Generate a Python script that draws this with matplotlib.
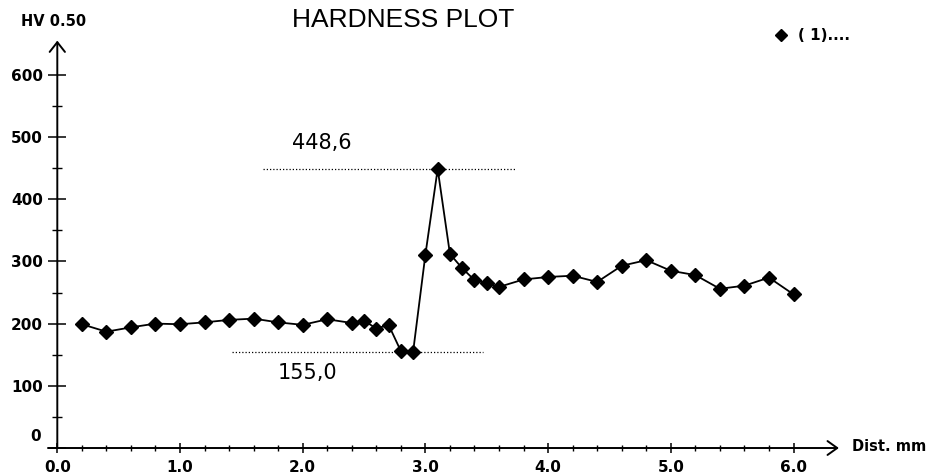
import matplotlib
matplotlib.use("Agg")
import numpy as np
import matplotlib.pyplot as plt
from matplotlib.ticker import FixedLocator

# ---- data ----
dist_mm = [0.2, 0.4, 0.6, 0.8, 1.0, 1.2, 1.4, 1.6, 1.8, 2.0, 2.2, 2.4,
           2.5, 2.6, 2.7, 2.8, 2.9, 3.0, 3.1, 3.2, 3.3, 3.4, 3.5, 3.6,
           3.8, 4.0, 4.2, 4.4, 4.6, 4.8, 5.0, 5.2, 5.4, 5.6, 5.8, 6.0]
hardness = [199, 187, 194, 200, 199, 202, 206, 208, 202, 198, 207, 201,
            205, 192, 198, 155.8, 155.0, 311, 448.6, 312, 289, 270, 265, 259,
            271, 275, 277, 267, 293, 302, 285, 278, 256, 261, 274, 247]
x_ticks = [0.0, 1.0, 2.0, 3.0, 4.0, 5.0, 6.0]
x_tick_labels = ["0.0", "1.0", "2.0", "3.0", "4.0", "5.0", "6.0"]
y_ticks = [0, 100, 200, 300, 400, 500, 600]
y_tick_labels = ["", "100", "200", "300", "400", "500", "600"]
title = "HARDNESS PLOT"
y_label = "HV 0.50"
x_label = "Dist. mm"
legend_label = "( 1)...."

BOLD = dict(family="DejaVu Sans", weight="bold")

fig = plt.figure(figsize=(9.34, 4.75), dpi=100)
ax = fig.add_axes([0, 0, 1, 1])
ax.set_xlim(-0.467, 7.145)
ax.set_ylim(-43.4, 720.3)
for s in ax.spines.values():
    s.set_visible(False)
ax.spines["left"].set_position(("data", 0))
ax.spines["bottom"].set_position(("data", 0))
ax.patch.set_alpha(0)

# ticks (minor ticks only inside the drawn axis range)
x_minor = [v for v in np.round(np.arange(0.2, 6.0, 0.2), 1) if v not in x_ticks]
y_minor = list(np.arange(50, 600, 100))
ax.xaxis.set_major_locator(FixedLocator(x_ticks))
ax.set_xticklabels(x_tick_labels, fontsize=11, **BOLD)
ax.xaxis.set_minor_locator(FixedLocator(x_minor))
ax.yaxis.set_major_locator(FixedLocator(y_ticks))
ax.set_yticklabels(y_tick_labels, fontsize=11, **BOLD)
ax.yaxis.set_minor_locator(FixedLocator(y_minor))
ax.tick_params(axis="x", which="major", direction="inout", length=7.7, width=1.1, pad=4.5)
ax.tick_params(axis="x", which="minor", direction="inout", length=3.8, width=1.0)
ax.tick_params(axis="y", which="major", direction="inout", length=13, width=1.1, pad=4)
ax.tick_params(axis="y", which="minor", direction="inout", length=7.2, width=1.0)
ax.text(-0.13, 18, "0", ha="right", va="center", fontsize=11, **BOLD)

# axis lines with arrows
ax.annotate("", xy=(6.37, 0), xytext=(-0.076, 0),
            arrowprops=dict(arrowstyle="->,head_length=0.7,head_width=0.5",
                            lw=1.4, color="black", shrinkA=0, shrinkB=0,
                            mutation_scale=10))
ax.annotate("", xy=(0, 655), xytext=(0, 0),
            arrowprops=dict(arrowstyle="->,head_length=0.7,head_width=0.55",
                            lw=1.4, color="black", shrinkA=0, shrinkB=0,
                            mutation_scale=10))

# data
ax.plot(dist_mm, hardness, color="black", lw=1.3, marker="D", markersize=7.3,
        markerfacecolor="black", markeredgecolor="black", zorder=3)

# max / min reference lines
ymax = max(hardness)
ymin = min(hardness)
ax.plot([1.68, 3.73], [ymax, ymax], color="black", lw=0.9, ls=(0, (1, 1.6)))
ax.plot([1.42, 3.47], [ymin, ymin], color="black", lw=0.9, ls=(0, (1, 1.6)))
ax.text(1.91, 490, f"{ymax:.1f}".replace(".", ","), ha="left", va="center",
        fontsize=15, family="DejaVu Sans")
ax.text(1.80, 120.6, f"{ymin:.1f}".replace(".", ","), ha="left", va="center",
        fontsize=15, family="DejaVu Sans")

# texts
ax.text(2.82, 688, title, ha="center", va="center", fontsize=19,
        family="Liberation Sans")
ax.text(-0.03, 685, y_label, ha="center", va="center", fontsize=10.5, **BOLD)
ax.text(6.48, 3, x_label, ha="left", va="center", fontsize=10.5, **BOLD)
ax.plot([5.9], [664], marker="D", markersize=6.5, color="black", ls="none")
ax.text(6.04, 664, legend_label, ha="left", va="center", fontsize=11, **BOLD)

fig.savefig("out.png", dpi=100)
